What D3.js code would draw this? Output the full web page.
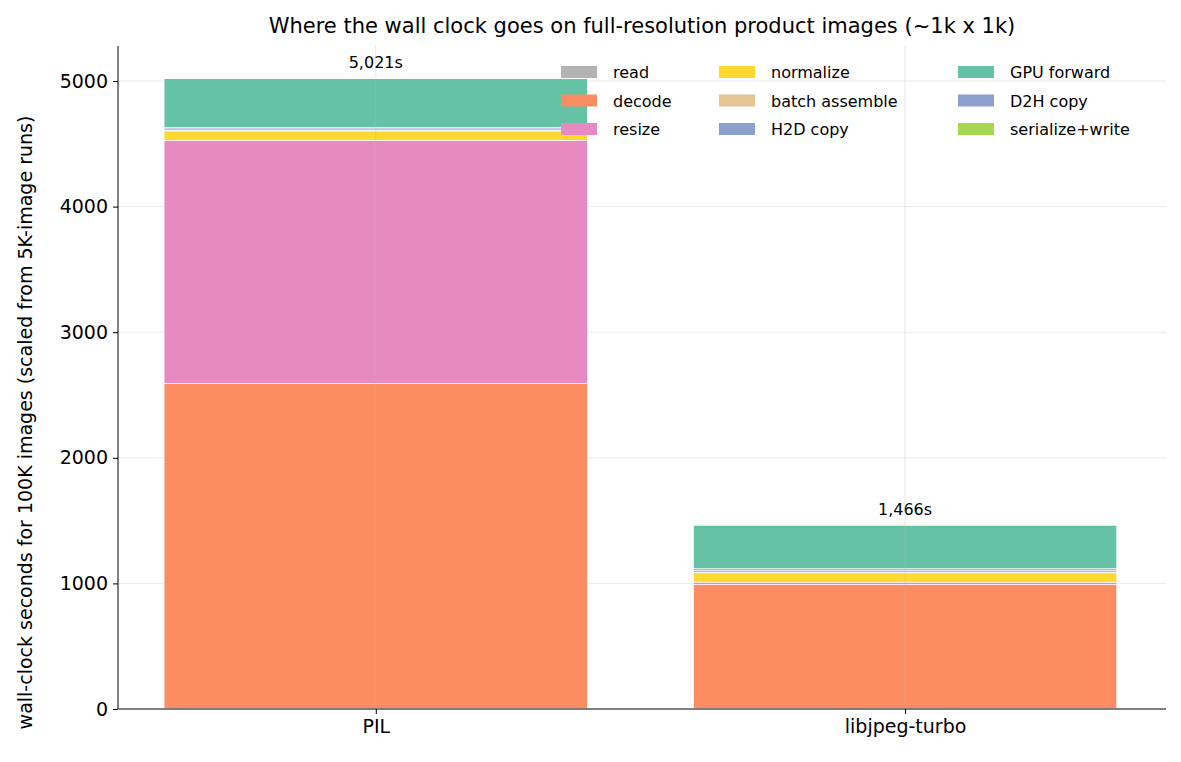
<!DOCTYPE html>
<html>
<head>
<meta charset="utf-8">
<script src="https://cdn.jsdelivr.net/npm/d3@7"></script>
<style>
  body { margin: 0; background: #fff; }
  text { font-family: "DejaVu Sans", sans-serif; fill: #000; }
</style>
</head>
<body>
<svg width="1181" height="762"></svg>
<script>
// Data
var decoders = ['PIL', 'libjpeg-turbo'];
var stages = ['read', 'decode', 'resize', 'normalize', 'batch assemble', 'H2D copy', 'D2H copy', 'GPU forward', 'serialize+write'];
var stageColors = ['#b3b3b3', '#fc8d62', '#e78ac3', '#ffd92f', '#e5c494', '#8da0cb', '#8da0cb', '#66c2a5', '#a6d854'];
var pilSeconds = [5, 2588, 1935, 75, 4, 12, 10, 390, 2];
var turboSeconds = [5, 985, 20, 75, 5, 15, 12, 347, 2];
var totals = [5021, 1466];
var yTicks = [0, 1000, 2000, 3000, 4000, 5000];
var legendOrder = ['read', 'decode', 'resize', 'normalize', 'batch assemble', 'H2D copy', 'GPU forward', 'D2H copy', 'serialize+write'];

var svg = d3.select('svg');
var padding = {t: 46, r: 15, b: 53, l: 118};
var chartWidth = 1181 - padding.l - padding.r;
var chartHeight = 762 - padding.t - padding.b;

var chartG = svg.append('g')
    .attr('transform', 'translate(' + [padding.l, padding.t] + ')');

var xScale = d3.scaleLinear().domain([-0.487, 1.493]).range([0, chartWidth]);
var yScale = d3.scaleLinear().domain([0, 5279]).range([chartHeight, 0]);

// grid
chartG.selectAll('.ygrid').data(yTicks.slice(1)).enter().append('line')
    .attr('x1', 0).attr('x2', chartWidth)
    .attr('y1', d => yScale(d)).attr('y2', d => yScale(d))
    .attr('stroke', '#ebebeb').attr('stroke-width', 1);

// stacked bars
var rows = [pilSeconds, turboSeconds];
rows.forEach(function(vals, i) {
    var base = 0;
    vals.forEach(function(v, j) {
        chartG.append('rect')
            .attr('x', xScale(i - 0.4))
            .attr('width', xScale(0.8) - xScale(0))
            .attr('y', yScale(base + v))
            .attr('height', yScale(base) - yScale(base + v))
            .attr('fill', stageColors[j])
            .attr('stroke', '#fff').attr('stroke-width', 0.7);
        base += v;
    });
    chartG.append('text')
        .attr('x', xScale(i)).attr('y', yScale(totals[i]) - 10)
        .attr('text-anchor', 'middle').style('font-size', '16px')
        .text(d3.format(',')(totals[i]) + 's');
});

chartG.selectAll('.xgrid').data([0, 1]).enter().append('line')
    .attr('x1', d => xScale(d)).attr('x2', d => xScale(d))
    .attr('y1', 0).attr('y2', chartHeight)
    .attr('stroke', '#bbb').attr('stroke-opacity', 0.35).attr('stroke-width', 1);

// axes
var yAxis = d3.axisLeft(yScale).tickValues(yTicks).tickFormat(d3.format('d')).tickSize(5).tickPadding(5);
var yG = chartG.append('g').call(yAxis);
yG.selectAll('text').style('font-size', '19px');

var xAxis = d3.axisBottom(xScale).tickValues([0, 1]).tickFormat((d, i) => decoders[i]).tickSize(5).tickPadding(6);
var xG = chartG.append('g').attr('transform', 'translate(0,' + chartHeight + ')').call(xAxis);
xG.selectAll('text').style('font-size', '19px');
xG.select('.domain').attr('d', 'M0.5,0H' + chartWidth);
yG.select('.domain').attr('d', 'M0,' + chartHeight + 'V0');

// title and label
svg.append('text').attr('x', 642).attr('y', 33).attr('text-anchor', 'middle')
    .style('font-size', '21px')
    .text('Where the wall clock goes on full-resolution product images (~1k x 1k)');
svg.append('text').attr('transform', 'translate(32,' + (padding.t + chartHeight / 2 + 45) + ') rotate(-90)')
    .attr('text-anchor', 'middle').style('font-size', '19px')
    .text('wall-clock seconds for 100K images (scaled from 5K-image runs)');

// legend (column-major, 3 rows)
var colX = [561, 719, 958];
legendOrder.forEach(function(name, k) {
    var col = Math.floor(k / 3), row = k % 3;
    var g = svg.append('g').attr('transform', 'translate(' + colX[col] + ',' + (72 + row * 28.5) + ')');
    g.append('rect').attr('x', 0).attr('y', -6).attr('width', 36).attr('height', 12)
        .attr('fill', stageColors[stages.indexOf(name)]);
    g.append('text').attr('x', 52).attr('y', 6).style('font-size', '16px').text(name);
});
</script>
</body>
</html>
